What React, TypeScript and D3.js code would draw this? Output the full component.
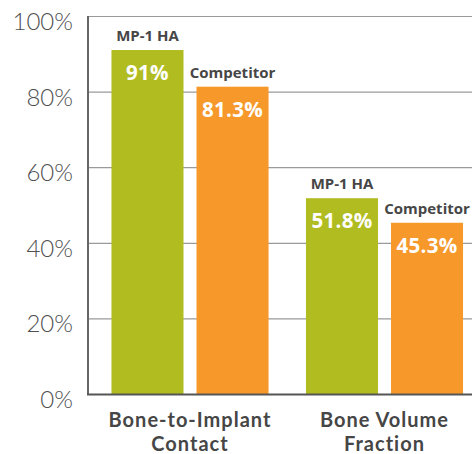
import React from "react";
import * as d3 from "d3";

const categories = ["Bone-to-Implant\nContact", "Bone Volume\nFraction"];
const seriesNames = ["MP-1 HA", "Competitor"];
const mp1Values = [91, 51.8];
const competitorValues = [81.3, 45.3];
const valueLabels = [["91%", "81.3%"], ["51.8%", "45.3%"]];
const yTicks = [0, 20, 40, 60, 80, 100];
const colors = ["#B1BC21", "#F6982A"];

const W = 472;
const H = 454;
const left = 88;
const yScale = d3.scaleLinear().domain([0, 100]).range([394, 16]);
const x0 = d3.scaleBand<string>().domain(categories).range([92.75, 481.75]).padding(0);
const x1 = d3
  .scaleBand<string>()
  .domain(seriesNames)
  .range([0, x0.bandwidth()])
  .paddingInner(13 / 85)
  .paddingOuter(0.22);

const tickFont = "Lato, 'Open Sans', sans-serif";
const boldFont = "'Open Sans', Lato, sans-serif";
const catFont = "Lato, 'Open Sans', sans-serif";

export default function App() {
  const seriesValues = [mp1Values, competitorValues];
  return (
    <svg width={W} height={H} style={{ position: "absolute", left: 0, top: 0 }}>
      {yTicks.map((t) => (
        <g key={t}>
          {t > 0 && (
            <line x1={left} x2={W} y1={yScale(t) + 0.5} y2={yScale(t) + 0.5} stroke="#9a9a9a" strokeWidth={1.2} />
          )}
          <text
            x={73}
            y={yScale(t) + 14}
            textAnchor="end"
            fontFamily={tickFont}
            fontWeight={300}
            fontSize={24}
            fill="#505050"
          >
            {t}%
          </text>
        </g>
      ))}
      {categories.map((c, ci) => (
        <g key={c} transform={`translate(${x0(c)},0)`}>
          {seriesNames.map((s, si) => {
            const v = seriesValues[si][ci];
            const bx = x1(s)!;
            const bw = x1.bandwidth();
            const top = yScale(v);
            return (
              <g key={s}>
                <rect x={bx} y={top} width={bw} height={yScale(0) - top} fill={colors[si]} />
                <text
                  x={bx + bw / 2}
                  y={top - 9}
                  textAnchor="middle"
                  fontFamily={boldFont}
                  fontWeight={700}
                  fontSize={15}
                  fill="#464646"
                >
                  {s}
                </text>
                <text
                  x={bx + bw / 2}
                  y={top + 30}
                  textAnchor="middle"
                  fontFamily={boldFont}
                  fontWeight={700}
                  fontSize={20.5}
                  letterSpacing={0.3}
                  fill="#fff"
                >
                  {valueLabels[ci][si]}
                </text>
              </g>
            );
          })}
          {c.split("\n").map((line, li) => (
            <text
              key={li}
              x={x0.bandwidth() / 2}
              y={427 + li * 24}
              textAnchor="middle"
              fontFamily={catFont}
              fontWeight={700}
              fontSize={20}
              letterSpacing={1}
              fill="#464646"
            >
              {line}
            </text>
          ))}
        </g>
      ))}
      <line x1={left} x2={left} y1={16} y2={395} stroke="#666" strokeWidth={2} />
      <line x1={left - 1} x2={W} y1={394.5} y2={394.5} stroke="#555" strokeWidth={2} />
    </svg>
  );
}
